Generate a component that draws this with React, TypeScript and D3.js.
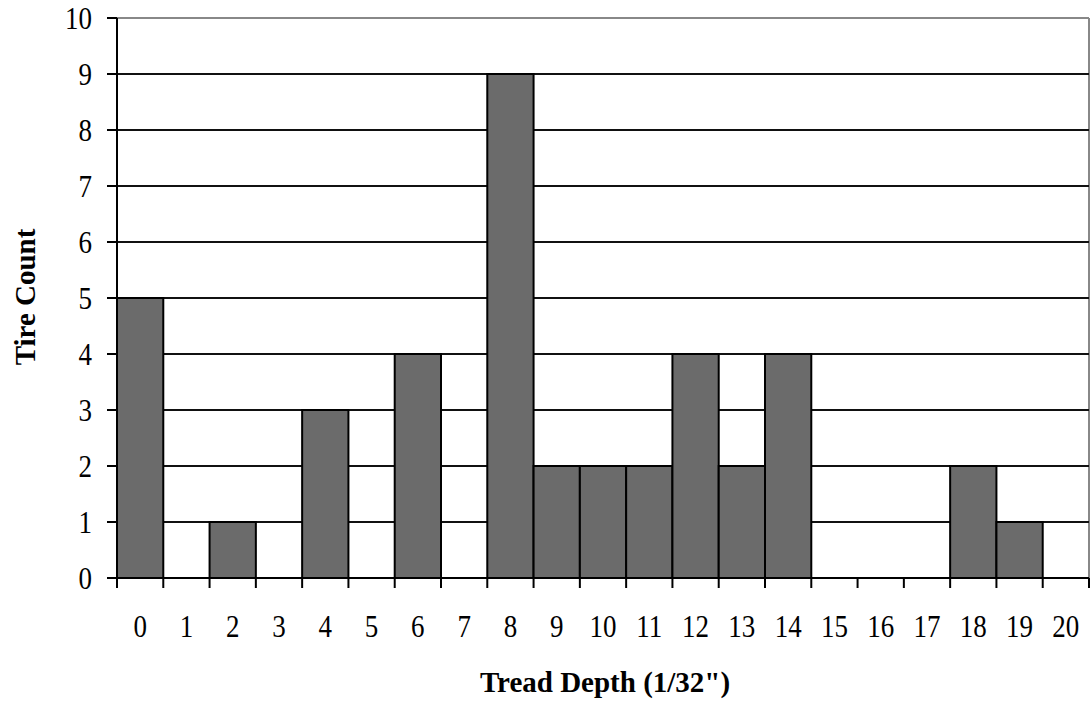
import React from "react";
import * as d3 from "d3";

const depths: number[] = d3.range(0, 21);
const counts: number[] = [5, 0, 1, 0, 3, 0, 4, 0, 9, 2, 2, 2, 4, 2, 4, 0, 0, 0, 2, 1, 0];
const yTicks: number[] = d3.range(0, 11);
const xTitle = "Tread Depth (1/32\")";
const yTitle = "Tire Count";

const W = 1090;
const H = 704;
const left = 117;
const right = 1089;
const top = 18;
const bottom = 578;

export default function App() {
  const x = d3.scaleLinear().domain([0, depths.length]).range([left, right]);
  const y = d3.scaleLinear().domain([0, 10]).range([bottom, top]);
  const font = "'Liberation Serif', 'Times New Roman', serif";

  return (
    <svg
      width={W}
      height={H}
      style={{ position: "absolute", left: 0, top: 0, background: "#fff" }}
    >
      <rect x={0} y={0} width={W} height={H} fill="#fff" />
      {/* top & right border */}
      <line x1={left} x2={right} y1={y(10)} y2={y(10)} stroke="#888" strokeWidth={2} />
      <line x1={right} x2={right} y1={y(10)} y2={bottom} stroke="#888" strokeWidth={2} />
      {/* gridlines */}
      {yTicks.filter((t) => t > 0 && t < 10).map((t) => (
        <line key={"g" + t} x1={left} x2={right} y1={y(t)} y2={y(t)} stroke="#111" strokeWidth={2} />
      ))}
      {/* bars */}
      {depths.map((d, i) =>
        counts[i] > 0 ? (
          <rect
            key={"b" + d}
            x={x(i)}
            y={y(counts[i])}
            width={x(i + 1) - x(i)}
            height={bottom - y(counts[i])}
            fill="#6b6b6b"
            stroke="#000"
            strokeWidth={2}
          />
        ) : null
      )}
      {/* axes */}
      <line x1={left} x2={left} y1={y(10)} y2={bottom + 10} stroke="#000" strokeWidth={2} />
      <line x1={left} x2={right} y1={bottom} y2={bottom} stroke="#000" strokeWidth={2} />
      {yTicks.map((t) => (
        <g key={"yt" + t}>
          <line x1={left - 10} x2={left} y1={y(t)} y2={y(t)} stroke="#000" strokeWidth={2} />
          <text
            transform={`translate(92, ${y(t) + 10.5}) scale(1, 1.15)`}
            textAnchor="end"
            fontFamily={font}
            fontSize={27}
            fill="#000"
          >
            {t}
          </text>
        </g>
      ))}
      {d3.range(0, depths.length + 1).map((k) => (
        <line key={"xt" + k} x1={x(k)} x2={x(k)} y1={bottom} y2={bottom + 10} stroke="#000" strokeWidth={2} />
      ))}
      {depths.map((d, i) => (
        <text
          key={"xl" + d}
          transform={`translate(${(x(i) + x(i + 1)) / 2}, 637) scale(1, 1.15)`}
          textAnchor="middle"
          fontFamily={font}
          fontSize={27}
          fill="#000"
        >
          {d}
        </text>
      ))}
      <text
        x={605}
        y={692}
        textAnchor="middle"
        fontFamily={font}
        fontWeight="bold"
        fontSize={29}
        fill="#000"
      >
        {xTitle}
      </text>
      <text
        transform={`translate(35, 297) rotate(-90)`}
        textAnchor="middle"
        fontFamily={font}
        fontWeight="bold"
        fontSize={29}
        fill="#000"
      >
        {yTitle}
      </text>
    </svg>
  );
}
